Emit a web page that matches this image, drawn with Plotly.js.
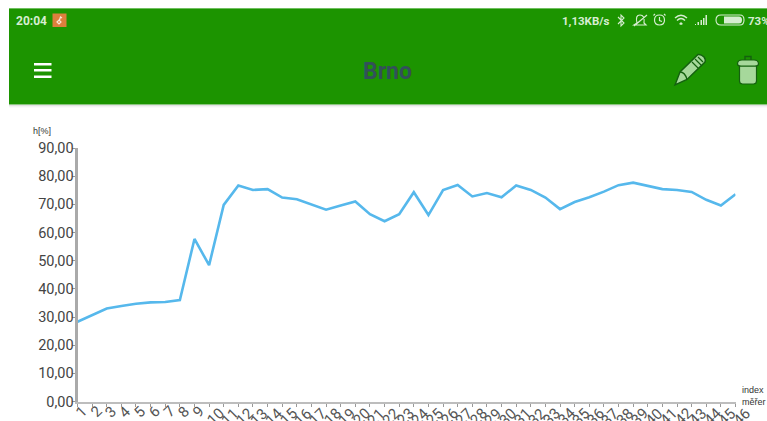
<!DOCTYPE html>
<html><head><meta charset="utf-8">
<script src="https://cdn.plot.ly/plotly-3.0.1.min.js"></script>
<style>html,body{margin:0;padding:0;background:#fff;overflow:hidden}#c{width:767px;height:421px}</style>
</head><body><div id="c"></div>
<script>
const indexMereni = [1,2,3,4,5,6,7,8,9,10,11,12,13,14,15,16,17,18,19,20,21,22,23,24,25,26,27,28,29,30,31,32,33,34,35,36,37,38,39,40,41,42,43,44,45,46];
const vlhkost = [28.3,30.7,33.0,33.9,34.7,35.2,35.3,36.0,57.7,48.4,69.8,76.7,75.1,75.4,72.4,71.8,70.0,68.1,69.6,71.0,66.5,64.0,66.5,74.3,66.2,75.1,76.9,72.8,74.0,72.5,76.7,75.1,72.4,68.3,70.8,72.5,74.5,76.8,77.7,76.5,75.4,75.1,74.4,71.6,69.6,73.6];
const yTicks = [0,10,20,30,40,50,60,70,80,90];
const W=767,H=421;
const L=77.5,R=735.5,T=148,B=401.5;
const sh=[];
function rect(x0,y0,x1,y1,c,op){sh.push({type:'rect',xref:'x2',yref:'y2',x0,y0,x1,y1,fillcolor:c,opacity:op==null?1:op,line:{width:0}});}
function path(d,fill,lc,lw){sh.push({type:'path',xref:'x2',yref:'y2',path:d,fillcolor:fill||'rgba(0,0,0,0)',line:{color:lc||'rgba(0,0,0,0)',width:lw||0}});}
// app bar
rect(9,8,767,104,'#1c9400');
rect(9,8,767,9,'#6fbf5f');
rect(9,104,767,105,'#8cc680');
rect(9,105,767,106,'#e2e2e2');
rect(9,106,767,107,'#f2f2f2');
rect(9,107,767,108,'#fafafa');
// hamburger
rect(34,63,51.5,65.5,'#ffffff');rect(34,69,51.5,71.5,'#ffffff');rect(34,75.5,51.5,78,'#ffffff');
// notification icon
rect(52.5,13.5,66.5,27,'#dd7f3d');
path('M57,22 L59,20 L61,22 L59,24 Z M59.5,20 L60.5,17 L62,18','rgba(0,0,0,0)','#fbe8d8',1.2);
// pencil
path('M675,85 L680,72 L698,54.5 Q701,54 704,57 Q706,60 705,62 L687,79.5 Z','#a6d89b','#14600f',1.4);
path('M680,72 Q685,72 687,79.5','rgba(0,0,0,0)','#14600f',1.4);
path('M692,62 L699,69 M695,59 L702,66 M698,57 L703,62','rgba(0,0,0,0)','#14600f',1.2);
// trash
path('M739.5,66 L756.5,66 L756.5,81 Q756.5,84 753.5,84 L742.5,84 Q739.5,84 739.5,81 Z','#a6d89b','#14600f',1.2);
path('M737.5,64 Q737.5,60 742,60 L754,60 Q758.5,60 758.5,64 Q758.5,66 755,66 L741,66 Q737.5,66 737.5,64 Z','#a6d89b','#14600f',1.2);
path('M745,60 L745,56.5 L751,56.5 L751,60','rgba(0,0,0,0)','#14600f',1.4);
// status icons
const sc='#d6edd0';
path('M618,17 L624,23 L621,26 L621,15 L624,18 L618,24','rgba(0,0,0,0)',sc,1.1);
path('M637,23 Q635,15 640,15 Q645,15 644,23 L646,25 L634,25 Z M634,26 L647,15','rgba(0,0,0,0)',sc,1.2);
path('M659.5,15 Q664.5,15 664.5,20 Q664.5,25 659.5,25 Q654.5,25 654.5,20 Q654.5,15 659.5,15 Z M659.5,17 L659.5,20.5 L662,21.5 M655,14 L653.5,15.5 M664,14 L665.5,15.5','rgba(0,0,0,0)',sc,1.2);
path('M675,18 Q681,12.5 687,18 M677,20.5 Q681,16.5 685,20.5','rgba(0,0,0,0)',sc,1.4);
path('M681,22 L683,24 L681,25 L679,24 Z',sc);
path('M695,25 L696,25 L696,24 L695,24 Z M697.5,25 L699,25 L699,22 L697.5,22 Z M700.5,25 L702,25 L702,20 L700.5,20 Z M703,25 L704.5,25 L704.5,18 L703,18 Z M705.5,25 L707,25 L707,15 L705.5,15 Z',sc);
path('M721,15 L740,15 Q744,15 744,20 Q744,25 740,25 L721,25 Q716,25 716,20 Q716,15 721,15 Z','rgba(0,0,0,0)',sc,1.1);
path('M724,16.5 L739,16.5 Q742,16.5 742,20 Q742,23.5 739,23.5 L724,23.5 Z',sc);

const ann=[];
function txt(x,y,t,size,color,extra){ann.push(Object.assign({xref:'x2',yref:'y2',x,y,text:t,showarrow:false,font:{size,color,family:'Roboto, sans-serif'},xanchor:'left',yanchor:'middle',align:'left'},extra||{}));}
txt(14,20.5,'<b>20:04</b>',12,sc);
txt(560,20.5,'<b>1,13KB/s</b>',11.5,sc);
txt(746,20.5,'<b>73%</b>',11.5,sc);
txt(387,71.5,'<b>Brno</b>',23,'#33505a',{xanchor:'center'});
ann.push({xref:'x2',yref:'y2',x:31,y:131,text:'h[%]',showarrow:false,xanchor:'left',yanchor:'middle',font:{size:9,color:'#333',family:'Liberation Sans, sans-serif'}});
ann.push({xref:'x2',yref:'y2',x:740,y:396,text:'index<br>měřer',showarrow:false,xanchor:'left',yanchor:'middle',align:'left',font:{size:9,color:'#333',family:'Liberation Sans, sans-serif'}});
// rotated x tick labels centred just below-right of each tick
indexMereni.forEach(v=>{const s=String(v);const two=s.length>1;ann.push({xref:'x',yref:'paper',x:v,y:(H-B)/H,yanchor:'middle',xanchor:'center',text:s,showarrow:false,textangle:-45,xshift:two?6:3.5,yshift:two?-15:-10,font:{size:15,color:'#555',family:'Roboto, sans-serif'}});});

Plotly.newPlot('c',[
 {type:'scatter',mode:'lines',x:indexMereni,y:vlhkost,line:{color:'#56b8ec',width:2.6},hoverinfo:'skip',showlegend:false,cliponaxis:false}
],{
 width:W,height:H,margin:{l:0,r:0,t:0,b:0,pad:0},paper_bgcolor:'#fff',plot_bgcolor:'rgba(0,0,0,0)',showlegend:false,
 separators:',.',
 xaxis:{domain:[L/W,R/W],range:[1,46],tickmode:'array',tickvals:indexMereni,ticktext:indexMereni.map(()=>''),showgrid:false,zeroline:false,showline:true,linecolor:'#bdbdbd',linewidth:2,ticks:'outside',ticklen:3,tickcolor:'#999',tickwidth:1,anchor:'y'},
 yaxis:{domain:[(H-B)/H,(H-T)/H],range:[0,90],tickmode:'array',tickvals:yTicks,tickformat:'.2f',showgrid:false,zeroline:false,showline:true,linecolor:'#aaaaaa',linewidth:3,ticks:'outside',ticklen:3,tickcolor:'#999',tickwidth:1,ticklabelstandoff:-5,tickfont:{size:14.5,color:'#444',family:'Roboto, sans-serif'},anchor:'x'},
 xaxis2:{domain:[0,1],range:[0,W],visible:false,anchor:'y2'},
 yaxis2:{domain:[0,1],range:[H,0],visible:false,anchor:'x2'},
 shapes:sh,annotations:ann
},{staticPlot:true,displayModeBar:false});
</script></body></html>
